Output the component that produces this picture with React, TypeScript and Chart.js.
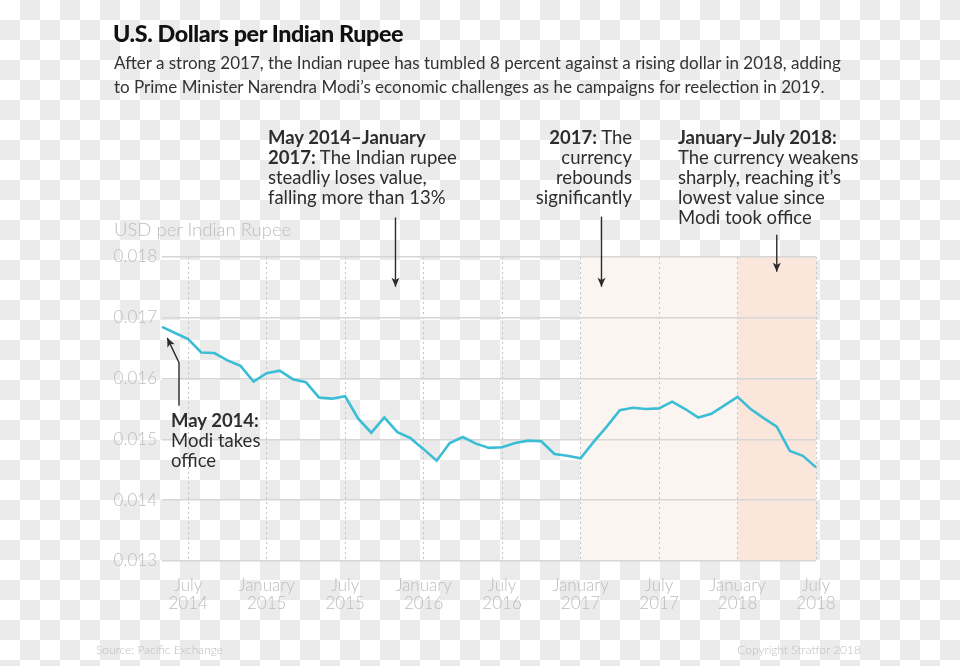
import React, { useEffect, useRef } from "react";
import { Chart, registerables } from "chart.js";

Chart.register(...registerables);

// ---- data ----
const MONTHS: string[] = [
  "2014-05", "2014-06", "2014-07", "2014-08", "2014-09", "2014-10", "2014-11", "2014-12",
  "2015-01", "2015-02", "2015-03", "2015-04", "2015-05", "2015-06", "2015-07", "2015-08", "2015-09", "2015-10", "2015-11", "2015-12",
  "2016-01", "2016-02", "2016-03", "2016-04", "2016-05", "2016-06", "2016-07", "2016-08", "2016-09", "2016-10", "2016-11", "2016-12",
  "2017-01", "2017-02", "2017-03", "2017-04", "2017-05", "2017-06", "2017-07", "2017-08", "2017-09", "2017-10", "2017-11", "2017-12",
  "2018-01", "2018-02", "2018-03", "2018-04", "2018-05", "2018-06", "2018-07",
];

const USD_PER_INR: number[] = [
  0.01685, 0.01675, 0.01665, 0.01643, 0.01642, 0.0163, 0.01621, 0.01595,
  0.01609, 0.01613, 0.01599, 0.01594, 0.01569, 0.01567, 0.01571, 0.01534, 0.01511, 0.01536, 0.01512, 0.01502,
  0.01484, 0.01465, 0.01494, 0.01504, 0.01493, 0.01486, 0.01487, 0.01494, 0.01498, 0.01497, 0.01476, 0.01473,
  0.01469, 0.01496, 0.01521, 0.01548, 0.01552, 0.0155, 0.01551, 0.01562, 0.0155, 0.01536, 0.01542, 0.01556,
  0.0157, 0.0155, 0.01535, 0.01521, 0.01481, 0.01473, 0.01454,
];

const MONTH_NAMES: string[] = ["January", "February", "March", "April", "May", "June", "July", "August", "September", "October", "November", "December"];
const TICK_MONTHS: number[] = [1, 7]; // January, July

const Y_MIN = 0.013;
const Y_MAX = 0.018;
const Y_STEP = 0.001;

// shaded periods: [startLabel, endLabel, color]
const SHADED: [string, string, string][] = [
  ["2017-01", "2018-01", "#fbf5f1"],
  ["2018-01", "2018-07", "#fbe6dc"],
];

// arrows: polyline points in (month index, value) - last point is the tip
const ARROWS: [number, number][][] = [
  [[17.85, 0.01865], [17.85, 0.01751]],
  [[33.6, 0.018665], [33.6, 0.01751]],
  [[47, 0.018367], [47, 0.017758]],
  [[1.3, 0.015554], [1.3, 0.016261], [0.4, 0.01667]],
];

const FONT = "Lato, 'Open Sans', sans-serif";
const LIGHT = "#bdbdbd";

function monthOf(label: string) {
  return parseInt(label.slice(5, 7), 10);
}

export default function App() {
  const ref = useRef<HTMLCanvasElement | null>(null);

  useEffect(() => {
    document.body.style.margin = "0";
    const canvas = ref.current;
    if (!canvas) return;

    const shadePlugin = {
      id: "shade",
      beforeDraw(chart: any) {
        const { ctx, chartArea, scales } = chart;
        ctx.save();
        SHADED.forEach(([a, b, c]) => {
          const x1 = scales.x.getPixelForValue(MONTHS.indexOf(a));
          const x2 = scales.x.getPixelForValue(MONTHS.indexOf(b));
          ctx.fillStyle = c;
          ctx.fillRect(x1, chartArea.top, x2 - x1, chartArea.bottom - chartArea.top);
        });
        ctx.restore();
      },
    };

    const arrowPlugin = {
      id: "arrows",
      afterDraw(chart: any) {
        const { ctx, scales } = chart;
        ctx.save();
        ctx.strokeStyle = "#2b2b2b";
        ctx.fillStyle = "#2b2b2b";
        ctx.lineWidth = 1.4;
        ARROWS.forEach((pts) => {
          const px = pts.map(([i, v]) => [scales.x.getPixelForValue(i), scales.y.getPixelForValue(v)]);
          ctx.beginPath();
          ctx.moveTo(px[0][0], px[0][1]);
          for (let k = 1; k < px.length; k++) ctx.lineTo(px[k][0], px[k][1]);
          ctx.stroke();
          const [tx, ty] = px[px.length - 1];
          const [sx, sy] = px[px.length - 2];
          const ang = Math.atan2(ty - sy, tx - sx);
          const L = 9, W = 4;
          ctx.beginPath();
          ctx.moveTo(tx, ty);
          ctx.lineTo(tx - L * Math.cos(ang) + W * Math.sin(ang), ty - L * Math.sin(ang) - W * Math.cos(ang));
          ctx.lineTo(tx - L * 0.75 * Math.cos(ang), ty - L * 0.75 * Math.sin(ang));
          ctx.lineTo(tx - L * Math.cos(ang) - W * Math.sin(ang), ty - L * Math.sin(ang) + W * Math.cos(ang));
          ctx.closePath();
          ctx.fill();
        });
        ctx.restore();
      },
    };

    const isTick = (i: number) => TICK_MONTHS.includes(monthOf(MONTHS[i]));

    const chart = new Chart(canvas, {
      type: "line",
      data: {
        labels: MONTHS,
        datasets: [
          {
            data: USD_PER_INR,
            borderColor: "#3cbdd6",
            borderWidth: 2.6,
            pointRadius: 0,
            tension: 0,
            fill: false,
          },
        ],
      },
      options: {
        animation: false,
        responsive: false,
        events: [],
        layout: { padding: { left: 102, right: 144, top: 257, bottom: 55 } },
        plugins: { legend: { display: false }, tooltip: { enabled: false } },
        scales: {
          x: {
            type: "category",
            offset: false,
            border: { display: false, dash: [2, 3] },
            afterFit: (s: any) => {
              s.height = 50;
            },
            grid: {
              drawTicks: false,
              lineWidth: 1,
              color: (c: any) => (c.index !== undefined && isTick(c.index) ? "#c4c4c4" : "rgba(0,0,0,0)"),
            } as any,
            ticks: {
              autoSkip: false,
              maxRotation: 0,
              padding: 16,
              color: LIGHT,
              font: { family: FONT, size: 17, weight: "300", lineHeight: 1.05 } as any,
              callback: (v: any, i: number) => {
                if (!isTick(i)) return "";
                const lab = MONTHS[i];
                return [MONTH_NAMES[monthOf(lab) - 1], lab.slice(0, 4)];
              },
            },
          },
          y: {
            min: Y_MIN,
            max: Y_MAX,
            border: { display: false },
            afterFit: (s: any) => {
              s.width = 60;
            },
            grid: { drawTicks: false, color: "#d6d6d6", lineWidth: 1.5 },
            ticks: {
              stepSize: Y_STEP,
              padding: 5,
              color: LIGHT,
              font: { family: FONT, size: 17, weight: "300" } as any,
              callback: (v: any) => Number(v).toFixed(3),
            },
          },
        },
      },
      plugins: [shadePlugin, arrowPlugin],
    });

    return () => chart.destroy();
  }, []);

  const text: React.CSSProperties = { position: "absolute", fontFamily: FONT, color: "#2e2e2e", whiteSpace: "nowrap" };
  const ann: React.CSSProperties = { ...text, fontSize: 18.5, lineHeight: "20px", top: 127 };

  return (
    <div
      style={{
        position: "relative",
        width: 960,
        height: 666,
        overflow: "hidden",
        backgroundColor: "#fff",
        backgroundImage: "conic-gradient(#ebebeb 0 25%, #fff 0 50%, #ebebeb 0 75%, #fff 0)",
        backgroundSize: "40px 40px",
      }}
    >
      <canvas ref={ref} width={960} height={666} style={{ position: "absolute", left: 0, top: 0 }} />
      <div style={{ ...text, left: 113, top: 19, fontSize: 23.3, fontWeight: 900, color: "#111", letterSpacing: "-0.4px" }}>
        U.S. Dollars per Indian Rupee
      </div>
      <div style={{ ...text, left: 114, top: 51, fontSize: 17, lineHeight: "24px", color: "#333" }}>
        After a strong 2017, the Indian rupee has tumbled 8 percent against a rising dollar in 2018, adding
        <br />
        to Prime Minister Narendra Modi’s economic challenges as he campaigns for reelection in 2019.
      </div>
      <div style={{ ...ann, left: 268 }}>
        <b>May 2014–January</b>
        <br />
        <b>2017:</b> The Indian rupee
        <br />
        steadliy loses value,
        <br />
        falling more than 13%
      </div>
      <div style={{ ...ann, right: 960 - 632, textAlign: "right" }}>
        <b>2017:</b> The
        <br />
        currency
        <br />
        rebounds
        <br />
        significantly
      </div>
      <div style={{ ...ann, left: 678 }}>
        <b>January–July 2018:</b>
        <br />
        The currency weakens
        <br />
        sharply, reaching it’s
        <br />
        lowest value since
        <br />
        Modi took office
      </div>
      <div style={{ ...ann, left: 171, top: 410 }}>
        <b>May 2014:</b>
        <br />
        Modi takes
        <br />
        office
      </div>
      <div style={{ ...text, left: 114, top: 218, fontSize: 18.5, fontWeight: 300, color: LIGHT }}>USD per Indian Rupee</div>
      <div style={{ ...text, left: 96, top: 642, fontSize: 12, fontWeight: 300, color: LIGHT }}>Source: Pacific Exchange</div>
      <div style={{ ...text, right: 960 - 861, top: 642, fontSize: 12, fontWeight: 300, color: LIGHT }}>Copyright Stratfor 2018</div>
    </div>
  );
}
